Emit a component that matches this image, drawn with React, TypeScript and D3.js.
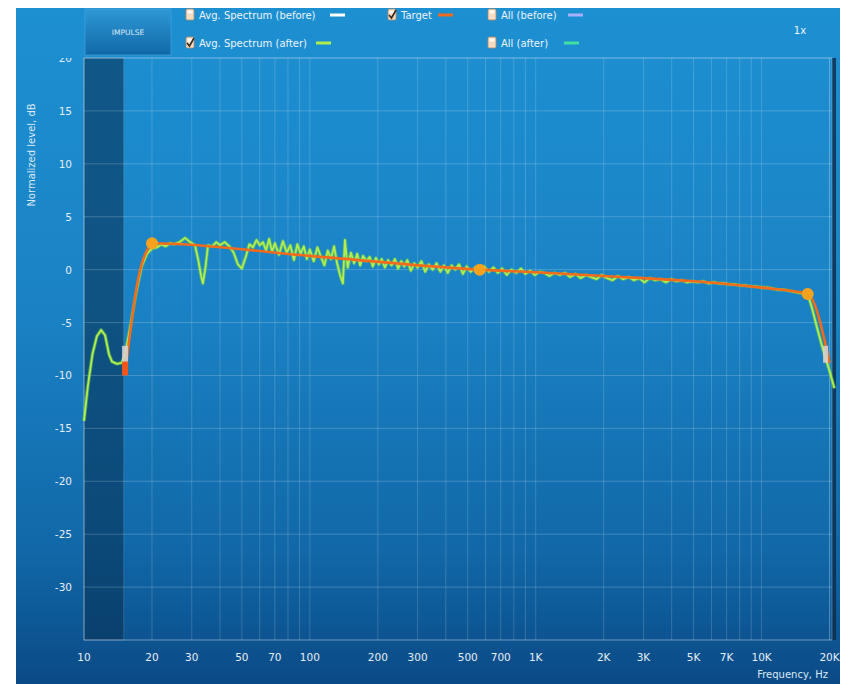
import React from "react";
import * as d3 from "d3";

const xTickValues = [10, 20, 30, 50, 70, 100, 200, 300, 500, 700, 1000, 2000, 3000, 5000, 7000, 10000, 20000];
const xTickLabels = ["10", "20", "30", "50", "70", "100", "200", "300", "500", "700", "1K", "2K", "3K", "5K", "7K", "10K", "20K"];
const yTickValues = [15, 10, 5, 0, -5, -10, -15, -20, -25, -30];
const yGridValues = [20, 15, 10, 5, 0, -5, -10, -15, -20, -25, -30, -35];

const targetFreq = [15.2, 16, 17, 18, 19, 20, 100, 565, 1000, 2000, 3000, 5000, 7000, 10000, 16000, 20000];
const targetDb = [-9.7, -6, -2, 0.5, 1.8, 2.5, 1.3, 0, -0.25, -0.6, -0.8, -1.1, -1.35, -1.7, -2.3, -8.8];

const ctrlFreq = [20, 565, 16000];
const ctrlDb = [2.5, 0, -2.3];

const afterFreq = [
  10, 10.4, 10.9, 11.4, 11.9, 12.4, 12.9, 13.3, 14.0, 14.7, 15.2, 16, 17, 18, 19, 20, 21, 22, 23, 24, 25, 26.5, 28, 29.5, 31, 32, 33, 33.6, 34.5, 35.4,
  37, 38.5, 40, 42, 44, 46, 48, 50, 52, 54, 56, 58, 60, 62, 64, 66, 68, 70, 73, 76, 79, 82, 85, 88, 91, 94, 97, 100,
  104, 108, 112, 116, 120, 124, 128, 132, 136, 140, 143, 147, 152, 157, 162, 167, 172, 178, 184, 190, 196, 202, 208,
  215, 222, 230, 238, 246, 254, 262, 270, 280, 290, 300, 312, 324, 336, 350, 364, 378, 392, 408, 424, 440, 458, 476,
  495, 515, 540, 565, 590, 620, 650, 680, 710, 745, 780, 820, 860, 900, 945, 990, 1040, 1090, 1150, 1210, 1280, 1350,
  1420, 1500, 1580, 1670, 1760, 1860, 1960, 2070, 2190, 2310, 2440, 2580, 2720, 2870, 3030, 3200, 3380, 3570, 3770,
  3980, 4200, 4440, 4690, 4950, 5230, 5520, 5830, 6160, 6500, 6870, 7250, 7660, 8090, 8540, 9020, 9530, 10060, 10630,
  11230, 11860, 12530, 13230, 13970, 14760, 15590, 16000, 16800, 17600, 18400, 19200, 20000, 20500, 21000,
];
const afterDb = [
  -14.3, -11, -8, -6.3, -5.7, -6.2, -8.0, -8.7, -8.9, -8.8, -8.0, -5.5, -2.2, 0.3, 1.5, 2.0, 2.1, 2.4, 2.2, 2.5, 2.4, 2.6, 3.0, 2.6, 2.3, 1.0, -0.6, -1.3, 0.2, 2.3,
  2.2, 2.6, 2.3, 2.6, 2.2, 1.6, 0.5, 0.1, 1.2, 2.4, 2.1, 2.8, 2.3, 2.6, 1.8, 2.9, 1.7, 2.5, 1.4, 2.7, 1.6, 2.3, 0.9, 2.4, 1.5, 2.2, 1.0, 1.9,
  0.8, 2.1, 1.2, 0.4, 1.8, 1.0, 2.2, 0.6, -0.5, -1.3, 2.8, 0.2, 1.6, 0.6, 1.5, 0.4, 1.3, 0.8, 1.2, 0.3, 1.1, 0.5, 1.0,
  0.2, 0.9, 0.4, 1.0, 0.1, 0.8, 0.3, 0.9, -0.1, 0.6, 0.2, 0.8, -0.2, 0.5, 0.0, 0.6, -0.2, 0.4, -0.3, 0.4, 0.0, 0.5, -0.4,
  0.3, -0.2, 0.2, -0.1, 0.3, -0.2, 0.2, -0.3, 0.1, -0.5, 0.0, -0.3, 0.1, -0.4, -0.1, -0.5, -0.2, -0.3, -0.6, -0.3, -0.5, -0.3,
  -0.7, -0.4, -0.8, -0.5, -0.7, -0.9, -0.5, -0.8, -1.0, -0.6, -0.9, -0.7, -1.0, -0.8, -1.2, -0.8, -1.0, -0.9, -1.2,
  -0.9, -1.1, -1.0, -1.2, -1.1, -1.2, -1.1, -1.3, -1.2, -1.3, -1.3, -1.4, -1.4, -1.5, -1.5, -1.6, -1.6, -1.7, -1.7,
  -1.8, -1.9, -1.9, -2.0, -2.1, -2.2, -2.3, -2.3, -3.8, -5.5, -7.0, -8.4, -9.6, -10.4, -11.2,
];

const legendRow1 = ["Avg. Spectrum (before)", "Target", "All (before)"];
const legendRow2 = ["Avg. Spectrum (after)", "All (after)"];

const W = 848;
const H = 684;
const L = 84, R = 832, T = 58, B = 640;
const FONT = "'DejaVu Sans', Verdana, sans-serif";

export default function App() {
  const x = d3.scaleLog().domain([10, 20500]).range([L, R]);
  const y = d3.scaleLinear().domain([-35, 20]).range([B, T]);

  const gridFreqs: number[] = [];
  for (let dec = 10; dec <= 10000; dec *= 10) {
    for (let k = 1; k <= 9; k++) {
      const f = dec * k;
      if (f <= 20000) gridFreqs.push(f);
    }
  }
  gridFreqs.push(20000);

  const targetPath = d3
    .line<number>()
    .x((d, i) => x(targetFreq[i]))
    .y((d) => y(d))
    .curve(d3.curveMonotoneX)(targetDb) as string;

  const afterPath = d3
    .line<number>()
    .x((d, i) => x(afterFreq[i]))
    .y((d) => y(d))
    .curve(d3.curveLinear)(afterDb) as string;

  const checkbox = (cx: number, cy: number, checked: boolean) => (
    <g>
      <rect x={cx - 4} y={cy - 6} width={8} height={11} rx={1.5} fill="#f3dcc4" stroke="#b98a63" strokeWidth={0.8} />
      <rect x={cx - 2.5} y={cy - 4.5} width={5} height={3} fill="#ffffff" opacity={0.8} />
      {checked && (
        <path d={`M${cx - 3},${cy} L${cx - 0.5},${cy + 3} L${cx + 4},${cy - 5}`} fill="none" stroke="#3a2a20" strokeWidth={1.6} />
      )}
    </g>
  );

  return (
    <svg width={W} height={H} style={{ position: "absolute", left: 0, top: 0, fontFamily: FONT }}>
      <defs>
        <linearGradient id="bg" x1="0" y1="0" x2="0" y2="1">
          <stop offset="0" stopColor="#1d90d2" />
          <stop offset="0.45" stopColor="#1a82c4" />
          <stop offset="0.8" stopColor="#1168a8" />
          <stop offset="1" stopColor="#0a4a86" />
        </linearGradient>
        <linearGradient id="btn" x1="0" y1="0" x2="0" y2="1">
          <stop offset="0" stopColor="#2e98d6" />
          <stop offset="1" stopColor="#1268a8" />
        </linearGradient>
        <clipPath id="topclip">
          <rect x={0} y={T} width={W} height={H} />
        </clipPath>
      </defs>
      <rect x={0} y={0} width={W} height={H} fill="#ffffff" />
      <rect x={16} y={8} width={824} height={676} fill="url(#bg)" />

      {/* Impulse button */}
      <rect x={85} y={9} width={86} height={46} fill="url(#btn)" stroke="#4aa6dc" strokeWidth={0.6} />
      <text x={128} y={35} fill="#dbe9f5" fontSize={7.5} textAnchor="middle">IMPULSE</text>

      {/* Shaded regions */}
      <rect x={L} y={T} width={x(15) - L} height={B - T} fill="#083458" opacity={0.6} stroke="#8a9aa8" strokeOpacity={0.5} strokeWidth={1} />
      <rect x={R} y={T} width={4} height={B - T} fill="#0a2a48" opacity={0.8} />

      {/* Grid */}
      {gridFreqs.map((f, i) => (
        <line key={"vg" + i} x1={x(f)} x2={x(f)} y1={T} y2={B} stroke="#ffffff" strokeOpacity={0.17} strokeWidth={1} />
      ))}
      {yGridValues.map((v, i) => (
        <line key={"hg" + i} x1={L} x2={R} y1={y(v)} y2={y(v)} stroke="#ffffff" strokeOpacity={0.2} strokeWidth={1} />
      ))}
      <rect x={L} y={T} width={R - L} height={B - T} fill="none" stroke="#ffffff" strokeOpacity={0.25} />

      {/* Tick labels */}
      <g clipPath="url(#topclip)">
        <text x={72} y={y(20) + 4} fill="#e6eef6" fontSize={10.5} textAnchor="end">20</text>
      </g>
      {yTickValues.map((v, i) => (
        <text key={"yt" + i} x={72} y={y(v) + 4} fill="#e6eef6" fontSize={10.5} textAnchor="end">{v}</text>
      ))}
      {xTickValues.map((v, i) => (
        <text key={"xt" + i} x={x(v)} y={661} fill="#e6eef6" fontSize={10.5} textAnchor="middle">{xTickLabels[i]}</text>
      ))}
      <text transform={`translate(35,155) rotate(-90)`} fill="#dbe8f4" fontSize={10} textAnchor="middle">Normalized level, dB</text>
      <text x={828} y={678} fill="#dbe8f4" fontSize={10} textAnchor="end">Frequency, Hz</text>

      {/* Series */}
      <path d={afterPath} fill="none" stroke="#6fd24a" strokeWidth={3.6} strokeOpacity={0.55} strokeLinejoin="round" />
      <path d={afterPath} fill="none" stroke="#b4ee4e" strokeWidth={1.8} strokeLinejoin="round" />
      <path d={targetPath} fill="none" stroke="#f26a1c" strokeWidth={2.6} strokeLinejoin="round" />
      {ctrlFreq.map((f, i) => (
        <circle key={"c" + i} cx={x(f)} cy={y(ctrlDb[i])} r={6} fill="#f7a21e" />
      ))}
      {/* edge markers */}
      <rect x={x(15.2) - 3} y={y(-7.2)} width={6} height={y(-8.7) - y(-7.2)} fill="#d8d0cc" opacity={0.9} />
      <rect x={x(15.2) - 3} y={y(-8.7)} width={6} height={y(-10) - y(-8.7)} fill="#f2561a" />
      <rect x={x(19300) - 3} y={y(-7.2)} width={5} height={y(-8.8) - y(-7.2)} fill="#d8d0cc" opacity={0.9} />

      {/* Legend */}
      {legendRow1.map((t, i) => {
        const cx = [190, 392, 492][i];
        const sw = [330, 438, 568][i];
        const col = ["#ffffff", "#f26a1c", "#a6b0ff"][i];
        return (
          <g key={"l1" + i}>
            {checkbox(cx, 15, i === 1)}
            <text x={cx + 9} y={19} fill="#eef4fa" fontSize={10}>{t}</text>
            <line x1={sw} x2={sw + 15} y1={15} y2={15} stroke={col} strokeWidth={3} />
          </g>
        );
      })}
      {legendRow2.map((t, i) => {
        const cx = [190, 492][i];
        const sw = [316, 564][i];
        const col = ["#b0ec4c", "#3fe0a0"][i];
        return (
          <g key={"l2" + i}>
            {checkbox(cx, 43, i === 0)}
            <text x={cx + 9} y={47} fill="#eef4fa" fontSize={10}>{t}</text>
            <line x1={sw} x2={sw + 15} y1={43} y2={43} stroke={col} strokeWidth={3} />
          </g>
        );
      })}
      <text x={800} y={34} fill="#eef4fa" fontSize={10} textAnchor="middle">1x</text>
    </svg>
  );
}
